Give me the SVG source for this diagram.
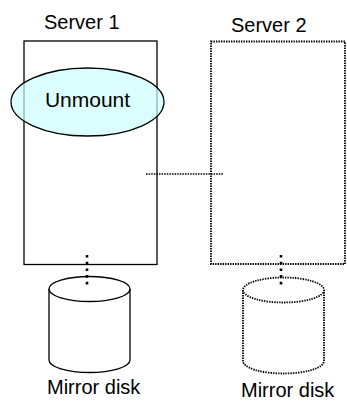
<svg xmlns="http://www.w3.org/2000/svg" width="347" height="403" viewBox="0 0 347 403">
<style>
text{font-family:"Liberation Sans",Arial,sans-serif;font-size:20px;fill:#000}
.solid{fill:none;stroke:#000;stroke-width:1.3}
.dot{fill:none;stroke:#000;stroke-width:1.8;stroke-dasharray:1.4 1.1}
.vconn{fill:none;stroke:#000;stroke-width:2.6;stroke-dasharray:2.6 4.1}
.hconn{fill:none;stroke:#000;stroke-width:1.5;stroke-dasharray:1.5 1.1}
</style>
<rect width="347" height="403" fill="#fff"/>
<g id="server1">
<rect class="solid" x="24" y="41" width="133" height="223.5"/>
<text x="44" y="29">Server 1</text>
</g>
<g id="server2">
<rect class="dot" x="211" y="41.5" width="134" height="222.5"/>
<text x="231" y="32">Server 2</text>
</g>
<g id="unmount">
<ellipse cx="87.5" cy="102" rx="76.5" ry="34" fill="#ccffff" fill-opacity="0.7" stroke="#000" stroke-width="1.3"/>
<text x="87.5" y="107" text-anchor="middle" style="font-size:21px">Unmount</text>
</g>
<g id="disk1">
<path class="solid" d="M49,289 V360 A40.5,12.5 0 0 0 130,360 V289"/>
<ellipse class="solid" cx="89.5" cy="289" rx="40.5" ry="12.5" fill="#fff"/>
<text x="47" y="394">Mirror disk</text>
</g>
<g id="disk2">
<path class="dot" d="M243,290 V361 A40.5,12.5 0 0 0 324,361 V290"/>
<ellipse class="dot" cx="283.5" cy="290" rx="40.5" ry="12.5"/>
<text x="241" y="397">Mirror disk</text>
</g>
<g id="connectors">
<line class="vconn" x1="87" y1="255" x2="87" y2="286"/>
<line class="vconn" x1="281" y1="255" x2="281" y2="286"/>
<line class="hconn" x1="146" y1="174" x2="223" y2="174"/>
</g>
</svg>
